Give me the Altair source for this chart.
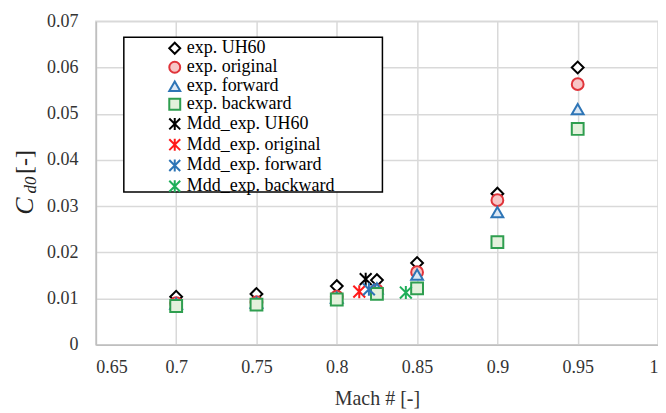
import altair as alt
import pandas as pd

# ---- data ----
series_names = ["exp. UH60", "exp. original", "exp. forward", "exp. backward",
                "Mdd_exp. UH60", "Mdd_exp. original", "Mdd_exp. forward", "Mdd_exp. backward"]

mach_exp = [0.70, 0.75, 0.80, 0.825, 0.85, 0.90, 0.95]
cd0_uh60 = [0.0104, 0.0110, 0.0127, 0.0140, 0.0177, 0.0327, 0.0600]
cd0_original = [0.0090, 0.0092, 0.0104, 0.0118, 0.0157, 0.0313, 0.0564]
cd0_forward = [0.0089, 0.0091, 0.0102, 0.0122, 0.0152, 0.0287, 0.0510]
cd0_backward = [0.0084, 0.0087, 0.0098, 0.0110, 0.0122, 0.0222, 0.0467]

mdd_mach = [0.818, 0.814, 0.820, 0.843]
mdd_cd0 = [0.0142, 0.0115, 0.0120, 0.0113]

x_ticks = [0.65, 0.70, 0.75, 0.80, 0.85, 0.90, 0.95, 1.00]
y_ticks = [0, 0.01, 0.02, 0.03, 0.04, 0.05, 0.06, 0.07]

rows = []
for name, vals in zip(series_names[:4], [cd0_uh60, cd0_original, cd0_forward, cd0_backward]):
    for m, v in zip(mach_exp, vals):
        rows.append({"series": name, "mach": m, "cd0": v})
for name, m, v in zip(series_names[4:], mdd_mach, mdd_cd0):
    rows.append({"series": name, "mach": m, "cd0": v})
df = pd.DataFrame(rows)
df["order"] = df["series"].map({n: i for i, n in enumerate(series_names)})

asterisk = "M-1,-1L1,1M-1,1L1,-1M0,-1.1L0,1.1"
shapes = ["diamond", "circle", "triangle-up", "square", asterisk, asterisk, asterisk, asterisk]
strokes = ["#000000", "#e0343a", "#2e75b6", "#2f9e4f", "#000000", "#ff1a1a", "#2e75b6", "#1fae5a"]
fills = ["#ffffff", "#f7c6c6", "#dce8f5", "#e4f1dc", "transparent", "transparent", "transparent", "transparent"]

FONT = "Liberation Serif"

leg = alt.Legend(title=None, orient="none", legendX=70, legendY=18,
                 labelFont=FONT, labelFontSize=18, labelColor="#000000")

points = alt.Chart(df).mark_point(filled=False, size=140, strokeWidth=2, opacity=1).encode(
    x=alt.X("mach:Q", scale=alt.Scale(domain=[0.65, 1.0], nice=False, zero=False),
            axis=alt.Axis(values=x_ticks, format="~g", title="Mach # [-]",
                          labelFont=FONT, titleFont=FONT)),
    y=alt.Y("cd0:Q", scale=alt.Scale(domain=[0, 0.07], nice=False),
            axis=alt.Axis(values=y_ticks, format="~g", title=None, labelFont=FONT)),
    shape=alt.Shape("series:N", scale=alt.Scale(domain=series_names, range=shapes), legend=leg),
    stroke=alt.Stroke("series:N", scale=alt.Scale(domain=series_names, range=strokes), legend=leg),
    fill=alt.Fill("series:N", scale=alt.Scale(domain=series_names, range=fills), legend=leg),
    order=alt.Order("order:Q"),
)

legend_box = alt.Chart(pd.DataFrame({"a": [0]})).mark_rect(
    fill="white", stroke="black", strokeWidth=1.5
).encode(x=alt.value(28), x2=alt.value(287), y=alt.value(16), y2=alt.value(171))

ytitle_c = alt.Chart(pd.DataFrame({"t": ["C"]})).mark_text(
    angle=270, font=FONT, fontSize=26, fontStyle="italic", color="#222", baseline="middle", align="center"
).encode(text="t:N", x=alt.value(-71), y=alt.value(185))
ytitle_sub = alt.Chart(pd.DataFrame({"t": ["d0"]})).mark_text(
    angle=270, font=FONT, fontSize=17, fontStyle="italic", color="#222", baseline="middle", align="center"
).encode(text="t:N", x=alt.value(-65), y=alt.value(164))
ytitle_unit = alt.Chart(pd.DataFrame({"t": ["[-]"]})).mark_text(
    angle=270, font=FONT, fontSize=24, color="#222", baseline="middle", align="center"
).encode(text="t:N", x=alt.value(-71), y=alt.value(141))

chart = alt.layer(legend_box, points, ytitle_c, ytitle_sub, ytitle_unit).properties(
    width=563, height=324,
    autosize=alt.AutoSizeParams(type="none"),
    padding={"left": 88, "top": 13, "right": 0, "bottom": 66},
).configure(
    font=FONT,
    style={"guide-label": {"font": FONT}, "guide-title": {"font": FONT}},
).configure_view(
    stroke="#d9d9d9", strokeWidth=1.5
).configure_axis(
    grid=True, gridColor="#d9d9d9", gridWidth=1.5,
    domainColor="#bfbfbf", domainWidth=1.5, ticks=False,
    labelFont=FONT, labelFontSize=18, labelColor="#333333",
    titleFont=FONT, titleFontSize=20, titleColor="#333333", titleFontWeight="normal",
).configure_axisX(
    labelPadding=14, titlePadding=12
).configure_axisY(
    labelPadding=18
).configure_legend(
    labelFont=FONT, labelFontSize=18, labelColor="#000000", labelOffset=3,
    symbolSize=120, symbolStrokeWidth=2, rowPadding=-1.2, padding=0,
    strokeColor="transparent", labelLimit=300,
)

chart.save("out.html", embed_options={"renderer": "svg", "actions": False})
